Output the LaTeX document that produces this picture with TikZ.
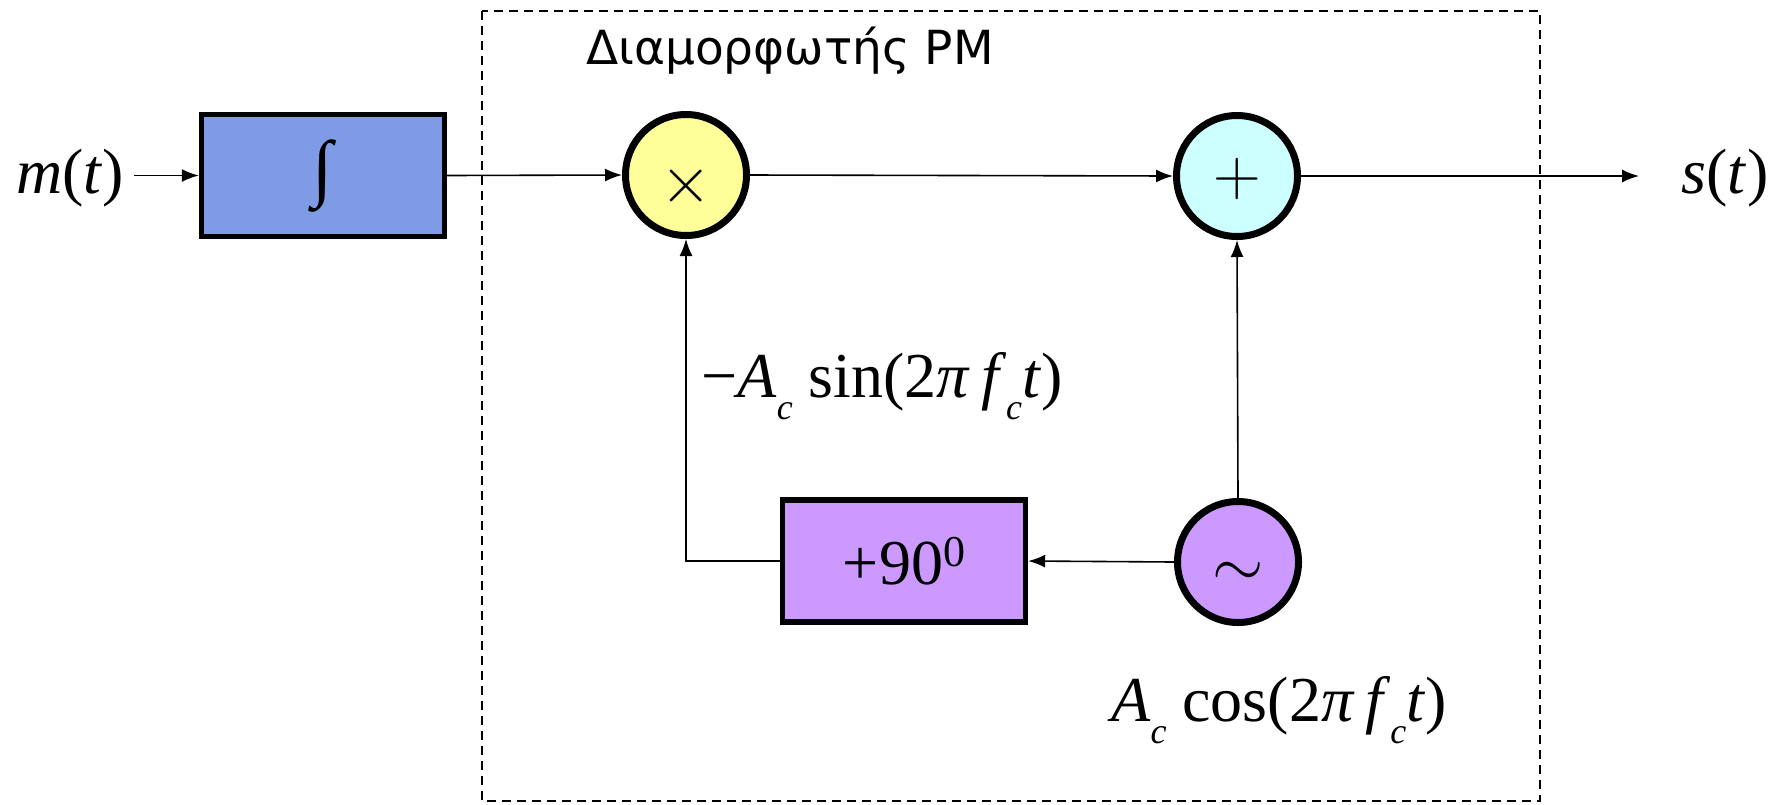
\RequirePackage{fix-cm}
\documentclass[tikz,border=0pt]{standalone}
\usepackage{fontspec}
\setmainfont{Liberation Serif}
\newfontfamily\titlefont{DejaVu Sans}
\usetikzlibrary{arrows.meta}
\definecolor{intblue}{HTML}{7F9BE6}
\definecolor{multy}{HTML}{FFFF99}
\definecolor{pluscy}{HTML}{CCFFFF}
\definecolor{purp}{HTML}{CC99FF}
\newcommand\sbx[1]{\raisebox{-0.35em}{\fontsize{18}{18}\selectfont\textit{#1}}}
\newcommand\symb[2]{\raisebox{-#2}[0pt][0pt]{\fontsize{33}{33}\selectfont$#1$}}
\begin{document}
\begin{tikzpicture}[x=0.5pt,y=-0.5pt,
  blk/.style={draw,line width=2.7pt,minimum width=121.5pt,minimum height=61pt,inner sep=0pt,font=\fontsize{32}{38}\selectfont},
  circ/.style={circle,draw,line width=3.5pt,minimum size=60.5pt,inner sep=0pt},
  conn/.style={line width=0.8pt,-{Latex[length=8.5pt,width=6.5pt]}},
  lbl/.style={inner sep=0pt,font=\fontsize{32}{38}\selectfont},
  frame/.style={line width=0.8pt,dash pattern=on 4.5pt off 3pt}]
\useasboundingbox (0,0) rectangle (1782,804);
\draw[frame] (482,11) rectangle (1540,801);
\node[inner sep=0pt,font=\titlefont\fontsize{23.5}{28}\selectfont] (title) at (790,51) {Διαμορφωτής PM};
\node[lbl,inner sep=5pt] (mtxt) at (70,178) {\textit{m}(\textit{t})};
\node[blk,fill=intblue] (int) at (323,175.5) {\fontsize{37}{40}\selectfont ∫};
\node[circ,fill=multy] (mult) at (686,175) {\symb{\times}{13.75pt}};
\node[circ,fill=pluscy] (plus) at (1237,176) {\symb{+}{9.5pt}};
\node[circ,fill=purp] (osc) at (1238,562) {\symb{\sim}{12.25pt}};
\node[blk,fill=purp] (ph) at (904,561) {+90\raisebox{0.28em}{\fontsize{22}{22}\selectfont 0}};
\coordinate (outend) at (1639,176);
\node[lbl] (stxt) at (1725,178) {\textit{s}(\textit{t})};
\node[lbl] (sinl) at (882,386) {−\textit{A}\sbx{c}\ sin(2\textit{π}\,\textit{f}\sbx{c}\textit{t})};
\node[lbl] (cosl) at (1279,710) {\textit{A}\sbx{c}\ cos(2\textit{π}\,\textit{f}\sbx{c}\textit{t})};
\draw[conn] (mtxt.east |- int.west) -- (int.west);
\draw[conn] (int.east) -- (mult.west);
\draw[conn] (mult.east) -- (plus.west);
\draw[conn] (plus.east) -- (outend);
\draw[conn] (osc.north) -- (plus.south);
\draw[conn] (osc.west) -- (ph.east);
\draw[conn] (ph.west) -| (mult.south);
\end{tikzpicture}
\end{document}
